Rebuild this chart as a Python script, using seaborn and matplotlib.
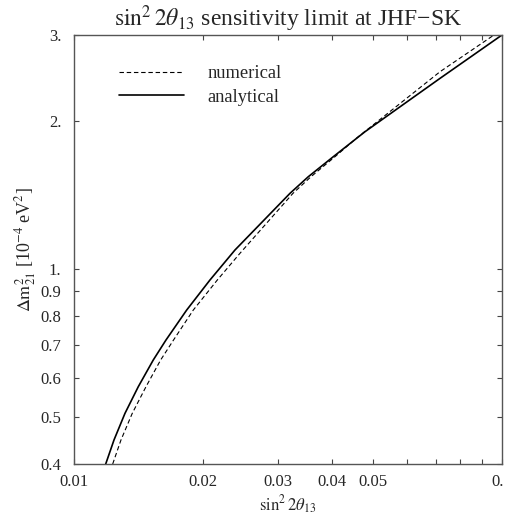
import numpy as np
import pandas as pd
import matplotlib
matplotlib.use("Agg")
import matplotlib.pyplot as plt
import seaborn as sns
from matplotlib.ticker import FixedLocator, FixedFormatter, NullLocator

# curvas (sin^2 2theta13 , dm^2_21 en 1e-4 eV^2)
x_analitico = [0.011861, 0.012402, 0.013157, 0.014131, 0.01532, 0.016402,
               0.018335, 0.020782, 0.023779, 0.031963, 0.035273, 0.040357,
               0.047858, 0.071637, 0.1]
y_analitico = [0.400, 0.4478, 0.5075, 0.5750, 0.6520, 0.7160,
               0.8243, 0.9492, 1.0930, 1.4260, 1.5418, 1.6940,
               1.9048, 2.4470, 3.0]

x_numerico = [0.012315, 0.012877, 0.013683, 0.01473, 0.01594, 0.017082,
              0.0190, 0.021621, 0.024427, 0.032483, 0.035789, 0.040728,
              0.045763, 0.071637, 0.095788]
y_numerico = [0.400, 0.4478, 0.5075, 0.5750, 0.6520, 0.7160,
              0.8243, 0.9492, 1.0762, 1.4260, 1.5418, 1.6940,
              1.8492, 2.5245, 3.0]

ticks_x = [0.01, 0.02, 0.03, 0.04, 0.05, 0.06, 0.07, 0.08, 0.09, 0.1]
etiquetas_x = ['0.01', '0.02', '0.03', '0.04', '0.05', '', '', '', '', '0.1']
ticks_y = [0.4, 0.5, 0.6, 0.7, 0.8, 0.9, 1.0, 2.0, 3.0]
etiquetas_y = ['0.4', '0.5', '0.6', '0.7', '0.8', '0.9', '1.', '2.', '3.']

sns.set_style("ticks")
plt.rcParams['font.family'] = ['Liberation Serif', 'DejaVu Serif']
plt.rcParams['mathtext.fontset'] = 'stix'
plt.rcParams['xtick.direction'] = 'in'
plt.rcParams['ytick.direction'] = 'in'

datos_num = pd.DataFrame({'x': x_numerico, 'y': y_numerico})
datos_ana = pd.DataFrame({'x': x_analitico, 'y': y_analitico})

fig = plt.figure(figsize=(5.06, 5.18), dpi=100)
ax = fig.add_axes([0.1462, 0.1042, 0.8458, 0.8282])

sns.lineplot(data=datos_num, x='x', y='y', ax=ax, sort=False, color='black',
             lw=0.8, label='numerical')
ax.lines[-1].set_linestyle((0, (4, 2.5)))
sns.lineplot(data=datos_ana, x='x', y='y', ax=ax, sort=False, color='black',
             lw=1.2, label='analytical')

ax.set_xscale('log')
ax.set_yscale('log')
ax.set_xlim(0.01, 0.1)
ax.set_ylim(0.4, 3.0)

ax.xaxis.set_major_locator(FixedLocator(ticks_x))
ax.xaxis.set_major_formatter(FixedFormatter(etiquetas_x))
ax.xaxis.set_minor_locator(NullLocator())
ax.yaxis.set_major_locator(FixedLocator(ticks_y))
ax.yaxis.set_major_formatter(FixedFormatter(etiquetas_y))
ax.yaxis.set_minor_locator(NullLocator())
ax.tick_params(axis='both', which='major', labelsize=12, length=3.5, width=0.8,
               color='#444444', top=True, right=True)
ax.tick_params(axis='x', pad=7)
ax.tick_params(axis='y', pad=9)

for lado in ax.spines.values():
    lado.set_color('#555555')
    lado.set_linewidth(1.0)

ax.set_title('$\\sin^2 2\\theta_{13}$ sensitivity limit at JHF\u2212SK',
             fontsize=17, pad=6)
ax.set_xlabel('$\\sin^2 2\\theta_{13}$', fontsize=12, labelpad=3)
ax.set_ylabel('$\\Delta\\mathrm{m}^2_{21}$ [10$^{-4}$ eV$^2$]', fontsize=13)
ax.yaxis.set_label_coords(-0.085, 0.5)

leg = ax.legend(loc='upper left', bbox_to_anchor=(0.105, 0.93), frameon=False,
                fontsize=13.3, handlelength=3.5, handletextpad=1.3,
                labelspacing=0.35, borderpad=0, borderaxespad=0)

plt.savefig('out.png', dpi=100)
